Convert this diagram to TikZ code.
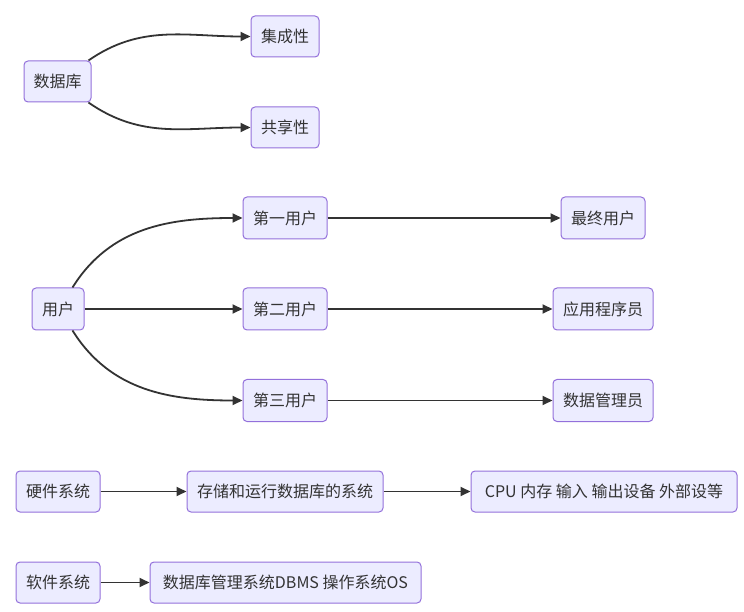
\documentclass[tikz,border=0pt]{standalone}
\usepackage{fontspec}
\newfontfamily\cjk{Noto Sans CJK SC}
\usetikzlibrary{positioning, arrows.meta}
\definecolor{boxfill}{HTML}{ECECFF}
\definecolor{boxline}{HTML}{9370DB}
\definecolor{edgeline}{HTML}{333333}

\begin{document}
\begin{tikzpicture}[
    x=1pt, y=1pt,
    box/.style={
        rectangle,
        rounded corners=4pt,
        draw=boxline,
        fill=boxfill,
        line width=1pt,
        minimum height=41pt,
        inner sep=0pt,
        align=center,
        text=edgeline,
        font=\cjk\fontsize{16}{19}\selectfont
    },
    arrow/.style={
        -{Triangle[length=10pt,width=9pt]},
        line width=1.8pt,
        draw=edgeline
    }
]
\useasboundingbox (0,0) rectangle (744,611);

% 数据库
\node[box, minimum width=67pt] (db) at (57.5,529.5) {数据库};
\node[box, minimum width=68pt] (jcx) at (285,574.5) {集成性};
\node[box, minimum width=68pt] (gxx) at (285,483.5) {共享性};

\draw[arrow] ([xshift=-3pt]db.north east) to[out=35, in=180] (jcx.west);
\draw[arrow] ([xshift=-3pt]db.south east) to[out=-35, in=180] (gxx.west);

% 用户
\node[box, minimum width=52pt, minimum height=42pt] (user) at (58,302) {用户};
\node[box, minimum width=84pt, minimum height=42pt] (user1) at (285,393) {第一用户};
\node[box, minimum width=84pt, minimum height=42pt] (user2) at (285,302) {第二用户};
\node[box, minimum width=84pt, minimum height=42pt] (user3) at (285,210.5) {第三用户};
\node[box, minimum width=84pt, minimum height=42pt] (enduser) at (603,393) {最终用户};
\node[box, minimum width=100pt, minimum height=42pt] (prog) at (603,302) {应用程序员};
\node[box, minimum width=100pt, minimum height=42pt] (dba) at (603,210.5) {数据管理员};

\draw[arrow] ([xshift=-12pt]user.north east) to[out=58, in=180] (user1.west);
\draw[arrow] (user) -- (user2);
\draw[arrow] ([xshift=-12pt]user.south east) to[out=-58, in=180] (user3.west);
\draw[arrow] (user1) -- (enduser);
\draw[arrow] (user2) -- (prog);
\draw[arrow] (user3) -- (dba);

% 硬件系统 / 软件系统
\node[box, minimum width=84pt] (hw) at (58,119.5) {硬件系统};
\node[box, minimum width=196pt] (store) at (285,119.5) {存储和运行数据库的系统};
\node[box, minimum width=266pt] (devices) at (604,119.5) {CPU 内存 输入 输出设备 外部设等};
\node[box, minimum width=84pt] (sw) at (58,28.5) {软件系统};
\node[box, minimum width=271pt] (dbms) at (285.5,28.5) {数据库管理系统DBMS 操作系统OS};

\draw[arrow] (hw) -- (store);
\draw[arrow] (store) -- (devices);
\draw[arrow] (sw) -- (dbms);

\end{tikzpicture}
\end{document}
